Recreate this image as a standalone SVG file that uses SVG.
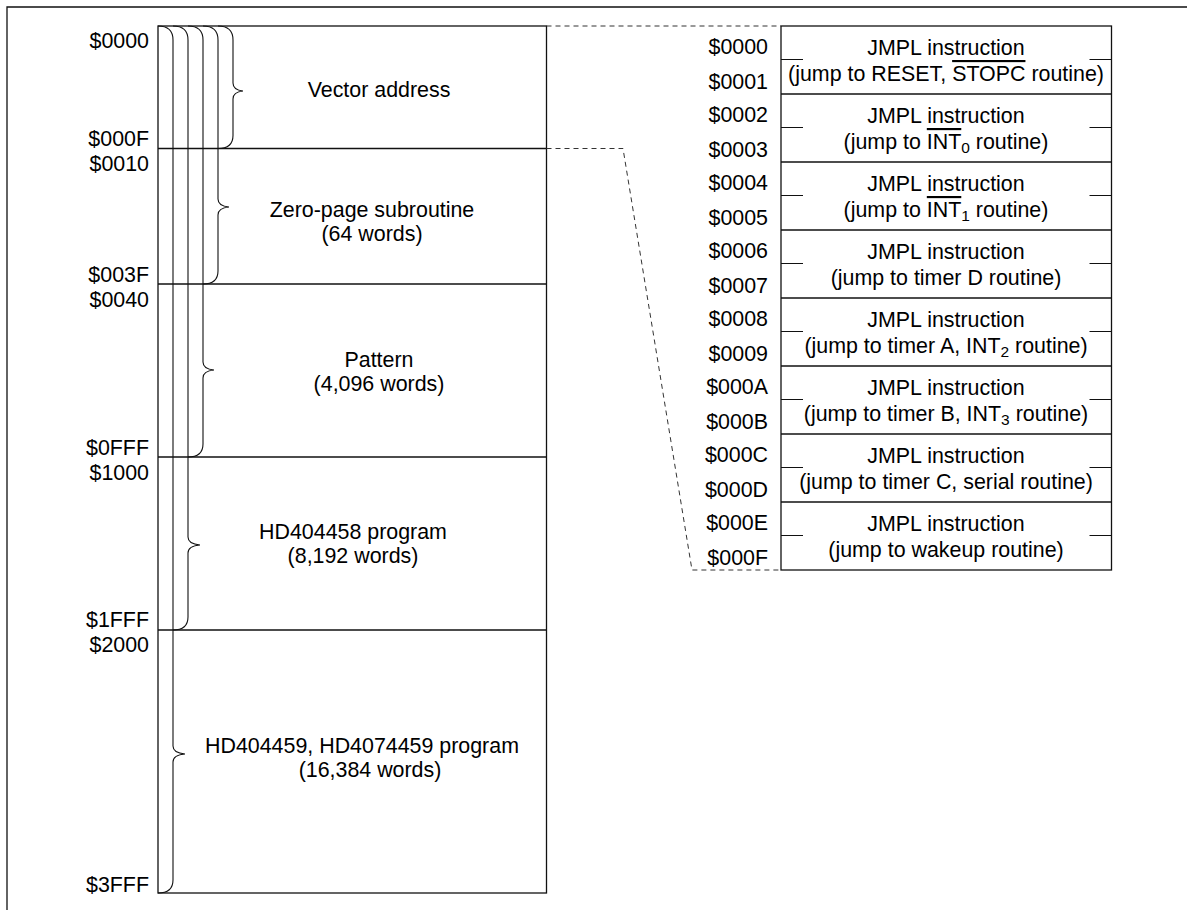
<svg xmlns="http://www.w3.org/2000/svg" width="1187" height="910" viewBox="0 0 1187 910">
<style>
text{font-family:"Liberation Sans",Arial,sans-serif;font-size:21.4px;fill:#000}
.m{text-anchor:middle}
.e{text-anchor:end}
.ln{stroke:#111;stroke-width:1.3;fill:none}
.br{stroke:#111;stroke-width:1.1;fill:none}
.ds{stroke:#333;stroke-width:1;fill:none;stroke-dasharray:5 4}
.ol{text-decoration:overline}
.sb{font-size:15.5px}
</style>
<rect width="1187" height="910" fill="#fff"/>
<g id="frame"><path class="ln" d="M7,910 V7 H1187" stroke-width="1.5"/></g>

<g id="memory-map">
<rect class="ln" x="158" y="26" width="388.5" height="867"/>
<g id="sec-vector">
<text class="e" x="149" y="48">$0000</text>
<text class="e" x="149" y="146">$000F</text>
<text class="m" x="379" y="97">Vector address</text>
</g>
<g id="sec-zeropage">
<line class="ln" x1="158" y1="148.5" x2="546.5" y2="148.5"/>
<text class="e" x="149" y="171">$0010</text>
<text class="e" x="149" y="282">$003F</text>
<text class="m" x="372" y="217">Zero-page subroutine</text>
<text class="m" x="372" y="241">(64 words)</text>
</g>
<g id="sec-pattern">
<line class="ln" x1="158" y1="284" x2="546.5" y2="284"/>
<text class="e" x="149" y="307">$0040</text>
<text class="e" x="149" y="455">$0FFF</text>
<text class="m" x="379" y="367">Pattern</text>
<text class="m" x="379" y="391">(4,096 words)</text>
</g>
<g id="sec-hd404458">
<line class="ln" x1="158" y1="457" x2="546.5" y2="457"/>
<text class="e" x="149" y="480">$1000</text>
<text class="e" x="149" y="627">$1FFF</text>
<text class="m" x="353" y="539">HD404458 program</text>
<text class="m" x="353" y="563">(8,192 words)</text>
</g>
<g id="sec-hd404459">
<line class="ln" x1="158" y1="630" x2="546.5" y2="630"/>
<text class="e" x="149" y="652">$2000</text>
<text class="e" x="149" y="892">$3FFF</text>
<text class="m" x="362" y="753">HD404459, HD4074459 program</text>
<text class="m" x="370" y="777">(16,384 words)</text>
</g>
</g>

<g id="braces">
<path class="br" d="M158,26 Q173,26 173,40 L173,746 Q173,753 185,754 Q173,755 173,762 L173,880 Q173,893 158,893"/>
<path class="br" d="M173,26 Q188,26 188,40 L188,537 Q188,544 200,545 Q188,546 188,553 L188,617 Q188,630 173,630"/>
<path class="br" d="M188,26 Q203,26 203,40 L203,362 Q203,369 214,370 Q203,371 203,378 L203,444 Q203,457 188,457"/>
<path class="br" d="M203,26 Q218,26 218,40 L218,199 Q218,206 229,207 Q218,208 218,215 L218,271 Q218,284 203,284"/>
<path class="br" d="M218,26 Q233,26 233,40 L233,83 Q233,90 243,91 Q233,92 233,99 L233,135.5 Q233,148.5 218,148.5"/>
</g>

<g id="connectors">
<path class="ds" d="M546.5,26 H781"/>
<path class="ds" d="M546.5,148.5 H623 L692,570 H781"/>
</g>

<g id="vector-table">
<rect class="ln" x="781" y="26" width="330.5" height="544"/>
<g class="ln">
<line x1="781" y1="94" x2="1111.5" y2="94"/>
<line x1="781" y1="162" x2="1111.5" y2="162"/>
<line x1="781" y1="230" x2="1111.5" y2="230"/>
<line x1="781" y1="298" x2="1111.5" y2="298"/>
<line x1="781" y1="366" x2="1111.5" y2="366"/>
<line x1="781" y1="434" x2="1111.5" y2="434"/>
<line x1="781" y1="502" x2="1111.5" y2="502"/>
</g>
<g class="br">
<path d="M781,59.5 h22 M1089.5,59.5 h22"/>
<path d="M781,127.5 h22 M1089.5,127.5 h22"/>
<path d="M781,195.5 h22 M1089.5,195.5 h22"/>
<path d="M781,263.5 h22 M1089.5,263.5 h22"/>
<path d="M781,331.5 h22 M1089.5,331.5 h22"/>
<path d="M781,399.5 h22 M1089.5,399.5 h22"/>
<path d="M781,467.5 h22 M1089.5,467.5 h22"/>
<path d="M781,535.5 h22 M1089.5,535.5 h22"/>
</g>
<g id="row-0">
<text class="e" x="768" y="54">$0000</text>
<text class="e" x="768" y="89">$0001</text>
<text class="m" x="946" y="55">JMPL instruction</text>
<text class="m" x="946" y="81">(jump to RESET, <tspan class="ol">STOPC</tspan> routine)</text>
</g>
<g id="row-1">
<text class="e" x="768" y="122">$0002</text>
<text class="e" x="768" y="157">$0003</text>
<text class="m" x="946" y="123">JMPL instruction</text>
<text class="m" x="946" y="149">(jump to <tspan class="ol">INT</tspan><tspan class="sb" dy="4">0</tspan><tspan dy="-4"> routine)</tspan></text>
</g>
<g id="row-2">
<text class="e" x="768" y="190">$0004</text>
<text class="e" x="768" y="225">$0005</text>
<text class="m" x="946" y="191">JMPL instruction</text>
<text class="m" x="946" y="217">(jump to <tspan class="ol">INT</tspan><tspan class="sb" dy="4">1</tspan><tspan dy="-4"> routine)</tspan></text>
</g>
<g id="row-3">
<text class="e" x="768" y="258">$0006</text>
<text class="e" x="768" y="293">$0007</text>
<text class="m" x="946" y="259">JMPL instruction</text>
<text class="m" x="946" y="285">(jump to timer D routine)</text>
</g>
<g id="row-4">
<text class="e" x="768" y="326">$0008</text>
<text class="e" x="768" y="361">$0009</text>
<text class="m" x="946" y="327">JMPL instruction</text>
<text class="m" x="946" y="353">(jump to timer A, INT<tspan class="sb" dy="4">2</tspan><tspan dy="-4"> routine)</tspan></text>
</g>
<g id="row-5">
<text class="e" x="768" y="394">$000A</text>
<text class="e" x="768" y="429">$000B</text>
<text class="m" x="946" y="395">JMPL instruction</text>
<text class="m" x="946" y="421">(jump to timer B, INT<tspan class="sb" dy="4">3</tspan><tspan dy="-4"> routine)</tspan></text>
</g>
<g id="row-6">
<text class="e" x="768" y="462">$000C</text>
<text class="e" x="768" y="497">$000D</text>
<text class="m" x="946" y="463">JMPL instruction</text>
<text class="m" x="946" y="489">(jump to timer C, serial routine)</text>
</g>
<g id="row-7">
<text class="e" x="768" y="530">$000E</text>
<text class="e" x="768" y="565">$000F</text>
<text class="m" x="946" y="531">JMPL instruction</text>
<text class="m" x="946" y="557">(jump to wakeup routine)</text>
</g>
</g>
</svg>
